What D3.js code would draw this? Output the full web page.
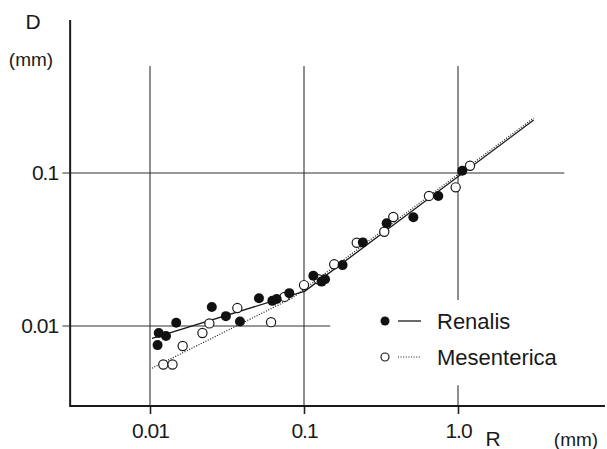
<!DOCTYPE html>
<html>
<head>
<meta charset="utf-8">
<script src="https://cdn.jsdelivr.net/npm/d3@7"></script>
<style>
	body { margin: 0; background: #fff; }
	svg { display: block; }
	text { font-family: "Liberation Sans", Arial, sans-serif; fill: #1a1a1a; }
</style>
</head>
<body>
<svg id="chart" width="607" height="449"></svg>
<script>
// data (R in mm, D in mm)
const renalisR = [0.0114, 0.0127, 0.0112, 0.0148, 0.0252, 0.0311, 0.0384, 0.0510, 0.0623, 0.0665, 0.0803, 0.115, 0.130, 0.137, 0.178, 0.241, 0.344, 0.513, 0.745, 1.066];
const renalisD = [0.0090, 0.0086, 0.0075, 0.0105, 0.0133, 0.0116, 0.0107, 0.0152, 0.0146, 0.0150, 0.0164, 0.0213, 0.0195, 0.0202, 0.0250, 0.0352, 0.0469, 0.0514, 0.0708, 0.1035];
const mesentericaR = [0.0122, 0.0140, 0.0163, 0.0219, 0.0243, 0.0369, 0.0611, 0.0747, 0.100, 0.124, 0.157, 0.220, 0.332, 0.380, 0.648, 0.966, 1.197];
const mesentericaD = [0.0056, 0.0056, 0.0074, 0.0090, 0.0104, 0.0131, 0.0106, 0.0155, 0.0185, 0.0202, 0.0253, 0.0350, 0.0413, 0.0516, 0.0708, 0.0806, 0.1116];
const renalisFitR = [0.0103, 0.1015, 3.1];
const renalisFitD = [0.0083, 0.0169, 0.222];
const mesentericaFitR = [0.0103, 0.0836, 3.1];
const mesentericaFitD = [0.0053, 0.0152, 0.229];
const xTickValues = [0.01, 0.1, 1];
const xTickLabels = ['0.01', '0.1', '1.0'];
const yTickValues = [0.01, 0.1];
const yTickLabels = ['0.01', '0.1'];
const xExtent = [0.00303, 9.0];
const yExtent = [0.003, 1.0];

let svg = d3.select('#chart');
let xScale = d3.scaleLog().domain([0.01, 1]).range([150, 458]);
let yScale = d3.scaleLog().domain([0.01, 0.1]).range([326, 173]);

let line = d3.line()
	.x(function(d) { return xScale(d[0]); })
	.y(function(d) { return yScale(d[1]); });

// grid lines (partial, as in the original figure)
let gridLines = [
	[[0.01, 0.5], [0.01, yExtent[0]]],
	[[0.1, 0.5], [0.1, yExtent[0]]],
	[[1, 0.5], [1, 0.0148]],
	[[1, 0.0041], [1, yExtent[0]]],
	[[0.0027, 0.1], [4.9, 0.1]],
	[[0.0027, 0.01], [0.148, 0.01]]
];
svg.append('g').selectAll('path')
	.data(gridLines)
	.enter().append('path')
	.attr('d', line)
	.style('stroke', '#333')
	.style('stroke-width', 1.1)
	.style('fill', 'none');

// axes
let xAxis = d3.axisBottom(xScale)
	.tickValues(xTickValues)
	.tickSize(8)
	.tickSizeOuter(0)
	.tickFormat(function(d, i) { return xTickLabels[i]; });
let xAxisG = svg.append('g')
	.attr('transform', 'translate(0,' + yScale(yExtent[0]) + ')')
	.call(xAxis);
xAxisG.select('.domain').remove();
xAxisG.selectAll('line').style('stroke', '#222').style('stroke-width', 1.6);
xAxisG.selectAll('text')
	.attr('dy', '1.0em')
	.style('font-size', '21px')
	.style('letter-spacing', '-1px')
	.style('fill', '#1a1a1a');

let yAxisG = svg.append('g')
	.attr('transform', 'translate(' + xScale(xExtent[0]) + ',0)')
	.call(d3.axisLeft(yScale).tickValues(yTickValues).tickSize(6).tickSizeOuter(0)
		.tickFormat(function(d, i) { return yTickLabels[i]; }));
yAxisG.select('.domain').remove();
yAxisG.selectAll('line').remove();
yAxisG.selectAll('text')
	.attr('x', -12)
	.style('font-size', '21px')
	.style('letter-spacing', '-1px')
	.style('fill', '#1a1a1a');

svg.append('path')
	.attr('d', line([[xExtent[0], yExtent[1]], [xExtent[0], yExtent[0]], [xExtent[1], yExtent[0]]]))
	.style('stroke', '#1a1a1a')
	.style('stroke-width', 2)
	.style('fill', 'none');

// fitted lines
svg.append('path')
	.datum(d3.zip(renalisFitR, renalisFitD))
	.attr('d', line)
	.style('stroke', '#1a1a1a')
	.style('stroke-width', 1.3)
	.style('fill', 'none');
svg.append('path')
	.datum(d3.zip(mesentericaFitR, mesentericaFitD))
	.attr('d', line)
	.style('stroke', '#1a1a1a')
	.style('stroke-width', 1.2)
	.style('stroke-dasharray', '1,1.6')
	.style('fill', 'none');

// points
svg.append('g').selectAll('circle')
	.data(d3.zip(mesentericaR, mesentericaD))
	.enter().append('circle')
	.attr('cx', function(d) { return xScale(d[0]); })
	.attr('cy', function(d) { return yScale(d[1]); })
	.attr('r', 4.6)
	.style('fill', '#fff')
	.style('stroke', '#1a1a1a')
	.style('stroke-width', 1.2);
svg.append('g').selectAll('circle')
	.data(d3.zip(renalisR, renalisD))
	.enter().append('circle')
	.attr('cx', function(d) { return xScale(d[0]); })
	.attr('cy', function(d) { return yScale(d[1]); })
	.attr('r', 5)
	.style('fill', '#111');

// axis titles
svg.append('text').attr('x', 33).attr('y', 29).attr('text-anchor', 'middle').style('font-size', '21px').text('D');
svg.append('text').attr('x', 31).attr('y', 66).attr('text-anchor', 'middle').style('font-size', '19px').text('(mm)');
svg.append('text').attr('x', 493).attr('y', 446).attr('text-anchor', 'middle').style('font-size', '21px').text('R');
svg.append('text').attr('x', 576).attr('y', 446).attr('text-anchor', 'middle').style('font-size', '19px').text('(mm)');

// legend
let legend = svg.append('g');
legend.append('circle').attr('cx', 385).attr('cy', 321).attr('r', 4.5).style('fill', '#111');
legend.append('line').attr('x1', 398).attr('x2', 421).attr('y1', 321).attr('y2', 321)
	.style('stroke', '#1a1a1a').style('stroke-width', 1.3);
legend.append('text').attr('x', 437).attr('y', 329).style('font-size', '22px').text('Renalis');
legend.append('circle').attr('cx', 385).attr('cy', 357).attr('r', 4).style('fill', '#fff')
	.style('stroke', '#1a1a1a').style('stroke-width', 1.2);
legend.append('line').attr('x1', 398).attr('x2', 421).attr('y1', 357).attr('y2', 357)
	.style('stroke', '#1a1a1a').style('stroke-width', 1.1).style('stroke-dasharray', '1,1.6');
legend.append('text').attr('x', 437).attr('y', 365).style('font-size', '22px').text('Mesenterica');
</script>
</body>
</html>
